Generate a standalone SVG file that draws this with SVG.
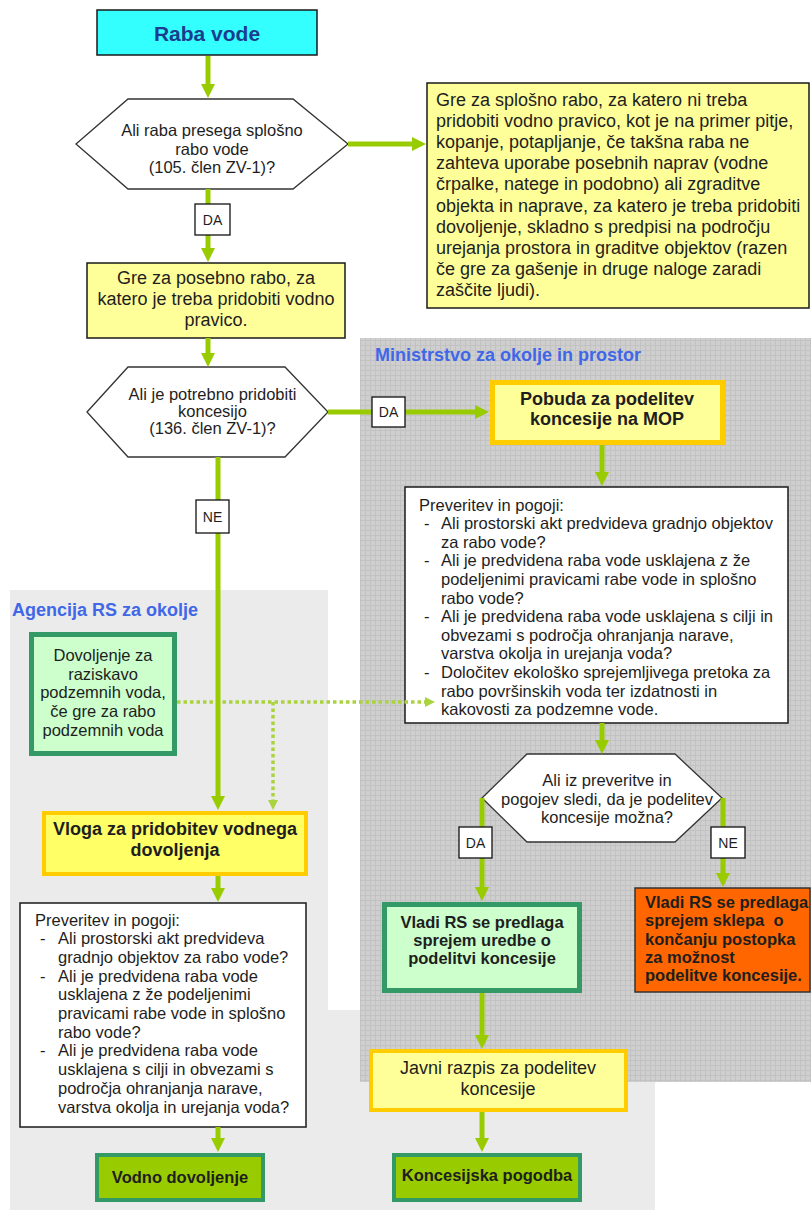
<svg xmlns="http://www.w3.org/2000/svg" width="811" height="1210" viewBox="0 0 811 1210">
<style>
text{font-family:"Liberation Sans",Arial,sans-serif;fill:#1e1e1e}
.t16{font-size:16.5px}
.t18{font-size:18px}
.b18{font-size:18px;font-weight:bold}
.b16{font-size:16.5px;font-weight:bold}
.c{text-anchor:middle}
.lab{font-size:18px;font-weight:bold;fill:#3f67e8}
.yn{font-size:14px;text-anchor:middle}
.ynbox{fill:#fff;stroke:#111;stroke-width:1.3}
.hex{fill:#fff;stroke:#333;stroke-width:1.3}
.thin{stroke:#1a1a1a;stroke-width:1.5}
.conn{stroke:#99cc00;stroke-width:5;fill:none;marker-end:url(#ah)}
.dot{stroke:#aad43f;stroke-width:3.5;fill:none;stroke-dasharray:3.5 3;marker-end:url(#ahd)}
</style>
<defs>
<pattern id="grid" width="5" height="5" patternUnits="userSpaceOnUse">
<rect width="5" height="5" fill="#cfcfcf"/>
<path d="M0,0.5 H5 M0.5,0 V5" stroke="#c2c2c2" stroke-width="1"/>
</pattern>
<marker id="ah" markerUnits="userSpaceOnUse" markerWidth="14" markerHeight="14" viewBox="0 0 14 14" refX="2" refY="7" orient="auto">
<path d="M0,0 L14,7 L0,14 z" fill="#99cc00"/>
</marker>
<marker id="ahd" markerUnits="userSpaceOnUse" markerWidth="10" markerHeight="10" viewBox="0 0 10 10" refX="1" refY="5" orient="auto">
<path d="M0,0 L10,5 L0,10 z" fill="#aad43f"/>
</marker>
</defs>
<rect width="811" height="1210" fill="#fff"/>
<g id="regions">
<polygon id="agencija-region" points="10,590 328,590 328,1010 655,1010 655,1210 10,1210" fill="#ebebeb"/>
<rect id="ministrstvo-region" x="360" y="338" width="451" height="744" fill="url(#grid)"/>
<text class="lab" x="12" y="616">Agencija RS za okolje</text>
<text class="lab" x="375" y="361">Ministrstvo za okolje in prostor</text>
</g>
<g id="raba-vode">
<rect x="97" y="10" width="220" height="45" fill="#33ffff" class="thin"/>
<text x="207" y="40.5" class="c" style="font-size:21px;font-weight:bold;fill:#1a3d8f">Raba vode</text>
</g>
<g id="q-splosna">
<polygon class="hex" points="76,144 128,99 293,99 348,144 293,189 128,189"/>
<text class="t16 c" x="212" y="136">Ali raba presega splošno</text>
<text class="t16 c" x="212" y="154.5">rabo vode</text>
<text class="t16 c" x="212" y="172.5">(105. člen ZV-1)?</text>
</g>
<g id="splosna-raba">
<rect x="427" y="83" width="382" height="225" fill="#ffff99" class="thin"/>
<text class="t18" x="436" y="105.5">Gre za splošno rabo, za katero ni treba</text>
<text class="t18" x="436" y="126.7">pridobiti vodno pravico, kot je na primer pitje,</text>
<text class="t18" x="436" y="147.9">kopanje, potapljanje, če takšna raba ne</text>
<text class="t18" x="436" y="169.1">zahteva uporabe posebnih naprav (vodne</text>
<text class="t18" x="436" y="190.3">črpalke, natege in podobno) ali zgraditve</text>
<text class="t18" x="436" y="211.5">objekta in naprave, za katero je treba pridobiti</text>
<text class="t18" x="436" y="232.7">dovoljenje, skladno s predpisi na področju</text>
<text class="t18" x="436" y="253.9">urejanja prostora in graditve objektov (razen</text>
<text class="t18" x="436" y="275.1">če gre za gašenje in druge naloge zaradi</text>
<text class="t18" x="436" y="296.3">zaščite ljudi).</text>
</g>
<g id="posebna-raba">
<rect x="87" y="263" width="258" height="75" fill="#ffff99" class="thin"/>
<text class="t18 c" x="216" y="283.5">Gre za posebno rabo, za</text>
<text class="t18 c" x="216" y="304.5">katero je treba pridobiti vodno</text>
<text class="t18 c" x="216" y="326">pravico.</text>
</g>
<g id="q-koncesija">
<polygon class="hex" points="87,412 128,367 285,367 328,412 285,457 128,457"/>
<text class="t16 c" x="212.5" y="400">Ali je potrebno pridobiti</text>
<text class="t16 c" x="212.5" y="417">koncesijo</text>
<text class="t16 c" x="212.5" y="433.5">(136. člen ZV-1)?</text>
</g>
<g id="pobuda">
<rect x="492.5" y="382.5" width="230" height="60" fill="#ffff99" stroke="#ffcc00" stroke-width="5"/>
<text class="b18 c" x="607" y="404.5">Pobuda za podelitev</text>
<text class="b18 c" x="607" y="424.5">koncesije na MOP</text>
</g>
<g id="preveritev-mop">
<rect x="405" y="487" width="383" height="236" fill="#fff" class="thin"/>
<text class="t16" x="419" y="510.5">Preveritev in pogoji:</text>
<text class="t16" x="424" y="529.1">-</text>
<text class="t16" x="441" y="529.1">Ali prostorski akt predvideva gradnjo objektov</text>
<text class="t16" x="441" y="547.7">za rabo vode?</text>
<text class="t16" x="424" y="566.3">-</text>
<text class="t16" x="441" y="566.3">Ali je predvidena raba vode usklajena z že</text>
<text class="t16" x="441" y="584.9">podeljenimi pravicami rabe vode in splošno</text>
<text class="t16" x="441" y="603.5">rabo vode?</text>
<text class="t16" x="424" y="622.1">-</text>
<text class="t16" x="441" y="622.1">Ali je predvidena raba vode usklajena s cilji in</text>
<text class="t16" x="441" y="640.7">obvezami s področja ohranjanja narave,</text>
<text class="t16" x="441" y="659.3">varstva okolja in urejanja voda?</text>
<text class="t16" x="424" y="677.9">-</text>
<text class="t16" x="441" y="677.9">Določitev ekološko sprejemljivega pretoka za</text>
<text class="t16" x="441" y="696.5">rabo površinskih voda ter izdatnosti in</text>
<text class="t16" x="441" y="715.1">kakovosti za podzemne vode.</text>
</g>
<g id="dovoljenje-raziskava">
<rect x="31.5" y="634.5" width="143" height="119" fill="#ccffcc" stroke="#339966" stroke-width="5"/>
<text class="t16 c" x="103" y="661">Dovoljenje za</text>
<text class="t16 c" x="103" y="679.7">raziskavo</text>
<text class="t16 c" x="103" y="698.4">podzemnih voda,</text>
<text class="t16 c" x="103" y="717.1">če gre za rabo</text>
<text class="t16 c" x="103" y="735.8">podzemnih voda</text>
</g>
<g id="vloga">
<rect x="44" y="813" width="262" height="61" fill="#ffff66" stroke="#ffcc00" stroke-width="4"/>
<text class="b18 c" x="175" y="834.5">Vloga za pridobitev vodnega</text>
<text class="b18 c" x="175" y="855.5">dovoljenja</text>
</g>
<g id="preveritev-arso">
<rect x="20" y="903" width="286" height="224" fill="#fff" class="thin"/>
<text class="t16" x="35" y="925.5">Preveritev in pogoji:</text>
<text class="t16" x="40" y="944.2">-</text>
<text class="t16" x="58" y="944.2">Ali prostorski akt predvideva</text>
<text class="t16" x="58" y="962.9">gradnjo objektov za rabo vode?</text>
<text class="t16" x="40" y="981.6">-</text>
<text class="t16" x="58" y="981.6">Ali je predvidena raba vode</text>
<text class="t16" x="58" y="1000.3">usklajena z že podeljenimi</text>
<text class="t16" x="58" y="1019">pravicami rabe vode in splošno</text>
<text class="t16" x="58" y="1037.7">rabo vode?</text>
<text class="t16" x="40" y="1056.4">-</text>
<text class="t16" x="58" y="1056.4">Ali je predvidena raba vode</text>
<text class="t16" x="58" y="1075.1">usklajena s cilji in obvezami s</text>
<text class="t16" x="58" y="1093.8">področja ohranjanja narave,</text>
<text class="t16" x="58" y="1112.5">varstva okolja in urejanja voda?</text>
</g>
<g id="vodno-dovoljenje">
<rect x="97" y="1155" width="166" height="45" fill="#99cc00" stroke="#339966" stroke-width="4"/>
<text class="b16 c" x="180" y="1183">Vodno dovoljenje</text>
</g>
<g id="q-mozna">
<polygon class="hex" points="482,798 527,754 675,754 722,798 675,842 527,842"/>
<text class="t16 c" x="607" y="786">Ali iz preveritve in</text>
<text class="t16 c" x="607" y="805">pogojev sledi, da je podelitev</text>
<text class="t16 c" x="607" y="823">koncesije možna?</text>
</g>
<g id="uredba">
<rect x="384.5" y="904.5" width="195" height="86" fill="#ccffcc" stroke="#339966" stroke-width="5"/>
<text class="b16 c" x="482" y="928">Vladi RS se predlaga</text>
<text class="b16 c" x="482" y="946">sprejem uredbe o</text>
<text class="b16 c" x="482" y="964">podelitvi koncesije</text>
</g>
<g id="sklep">
<rect x="635" y="888" width="175" height="104" fill="#ff6600" stroke="#333" stroke-width="1.5"/>
<text class="b16" x="645" y="908">Vladi RS se predlaga</text>
<text class="b16" x="645" y="926.3" style="white-space:pre">sprejem sklepa  o</text>
<text class="b16" x="645" y="944.6">končanju postopka</text>
<text class="b16" x="645" y="962.9">za možnost</text>
<text class="b16" x="645" y="981.2">podelitve koncesije.</text>
</g>
<g id="javni-razpis">
<rect x="371" y="1051" width="255" height="59" fill="#ffff99" stroke="#ffcc00" stroke-width="4"/>
<text class="t18 c" x="498" y="1073.5">Javni razpis za podelitev</text>
<text class="t18 c" x="498" y="1094.5">koncesije</text>
</g>
<g id="koncesijska-pogodba">
<rect x="394" y="1155" width="186" height="45" fill="#99cc00" stroke="#339966" stroke-width="4"/>
<text class="b16 c" x="487" y="1181">Koncesijska pogodba</text>
</g>
<g id="connectors">
<line class="dot" x1="177" y1="702" x2="426" y2="702"/>
<line class="dot" x1="273" y1="702" x2="273" y2="801"/>
<line class="conn" x1="208" y1="56" x2="208" y2="86"/>
<line class="conn" x1="348" y1="144" x2="414" y2="144"/>
<line class="conn" x1="208" y1="189" x2="208" y2="250"/>
<line class="conn" x1="208" y1="338" x2="208" y2="355"/>
<line class="conn" x1="328" y1="412" x2="477" y2="412"/>
<line class="conn" x1="218" y1="457" x2="218" y2="798"/>
<line class="conn" x1="602" y1="445" x2="602" y2="474"/>
<line class="conn" x1="602" y1="723" x2="602" y2="742"/>
<line class="conn" x1="482" y1="798" x2="482" y2="889"/>
<line class="conn" x1="723" y1="798" x2="723" y2="875"/>
<line class="conn" x1="482" y1="993" x2="482" y2="1037"/>
<line class="conn" x1="482" y1="1112" x2="482" y2="1140"/>
<line class="conn" x1="218" y1="876" x2="218" y2="890"/>
<line class="conn" x1="218" y1="1127" x2="218" y2="1140"/>
<g id="labels">
<rect class="ynbox" x="195" y="204" width="35" height="31"/><text class="yn" x="212.5" y="224.5">DA</text>
<rect class="ynbox" x="372" y="397" width="33" height="30"/><text class="yn" x="388.5" y="417">DA</text>
<rect class="ynbox" x="196" y="500" width="33" height="33"/><text class="yn" x="212.5" y="521.5">NE</text>
<rect class="ynbox" x="459" y="827" width="33" height="31"/><text class="yn" x="475.5" y="847.5">DA</text>
<rect class="ynbox" x="711" y="827" width="34" height="31"/><text class="yn" x="728" y="847.5">NE</text>
</g>
</g>
</svg>
